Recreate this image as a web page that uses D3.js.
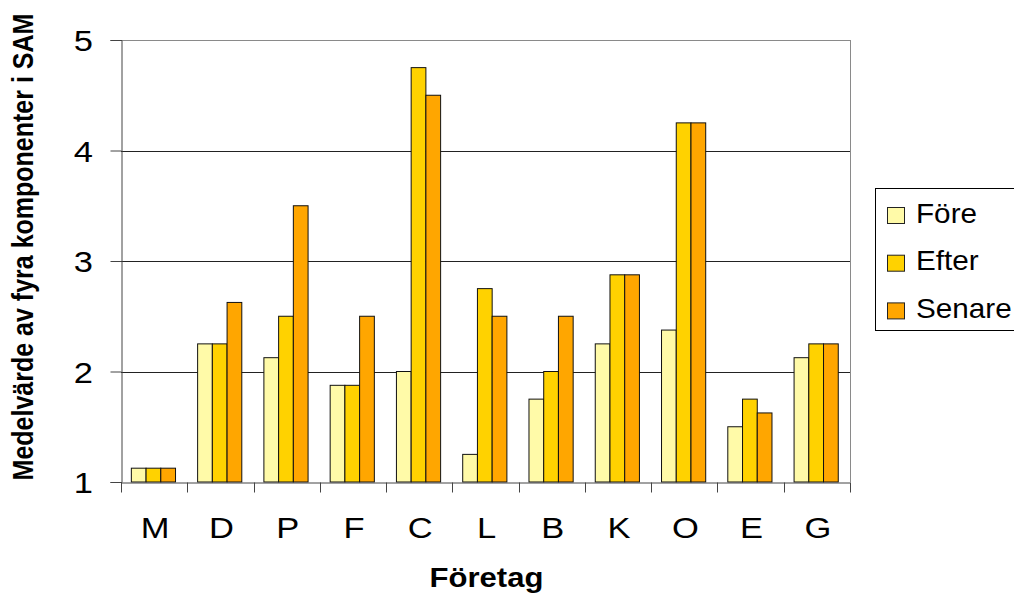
<!DOCTYPE html>
<html>
<head>
<meta charset="utf-8">
<script src="https://cdn.jsdelivr.net/npm/d3@7"></script>
<style>
  html, body { margin: 0; padding: 0; background: #fff; }
  svg { display: block; }
  text { font-family: "Liberation Sans", Arial, sans-serif; fill: #000; }
</style>
</head>
<body>
<svg id="chart" width="1014" height="596"></svg>
<script>
const categories = ["M", "D", "P", "F", "C", "L", "B", "K", "O", "E", "G"];
const fore   = [1.125, 2.25, 2.125, 1.875, 2.0, 1.25, 1.75, 2.25, 2.375, 1.5, 2.125];
const efter  = [1.125, 2.25, 2.5,   1.875, 4.75, 2.75, 2.0, 2.875, 4.25, 1.75, 2.25];
const senare = [1.125, 2.625, 3.5,  2.5,   4.5,  2.5,  2.5, 2.875, 4.25, 1.625, 2.25];
const seriesNames = ["Före", "Efter", "Senare"];
const seriesColors = ["#FFFAA8", "#FFD200", "#FFA600"];
const yTicks = [1, 2, 3, 4, 5];
const yTitle = "Medelvärde av fyra komponenter i SAM";
const xTitle = "Företag";

(function () {
const seriesValues = [fore, efter, senare];
const sx = 1.15; // horizontal stretch of the original picture

const svg = d3.select("#chart");
const pLeft = 121, pRight = 850, pTop = 40, pBottom = 482;

const x0 = d3.scaleBand().domain(categories).range([pLeft, pRight]).padding(0);
const bw = x0.bandwidth();
const gap = bw * 1.5 / 4.5;
const x1 = d3.scaleBand().domain(seriesNames).range([gap / 2 - 0.7, bw - gap / 2 - 0.7]).padding(0);
const y = d3.scaleLinear().domain([1, 5]).range([pBottom, pTop]);

// gridlines
svg.append("g").selectAll("line")
  .data(yTicks.filter(d => d > 1 && d < 5))
  .join("line")
  .attr("x1", pLeft).attr("x2", pRight)
  .attr("y1", d => Math.round(y(d)) + 0.5).attr("y2", d => Math.round(y(d)) + 0.5)
  .attr("stroke", "#222").attr("stroke-width", 1);

// plot border top/right
svg.append("line").attr("x1", pLeft).attr("x2", pRight + 0.5)
  .attr("y1", pTop + 0.5).attr("y2", pTop + 0.5).attr("stroke", "#8a8a8a");
svg.append("line").attr("x1", pRight + 0.5).attr("x2", pRight + 0.5)
  .attr("y1", pTop).attr("y2", pBottom).attr("stroke", "#8a8a8a");

// bars
const groups = svg.append("g").selectAll("g")
  .data(categories)
  .join("g")
  .attr("transform", d => `translate(${x0(d)},0)`);

groups.selectAll("rect")
  .data((c, i) => seriesNames.map((s, k) => ({ s, k, v: seriesValues[k][i] })))
  .join("rect")
  .attr("x", d => x1(d.s))
  .attr("y", d => y(d.v))
  .attr("width", x1.bandwidth())
  .attr("height", d => y(1) - y(d.v))
  .attr("fill", d => seriesColors[d.k])
  .attr("stroke", "#111")
  .attr("stroke-width", 1);

// y axis
const yAxis = svg.append("g")
  .attr("transform", `translate(${pLeft + 0.5},0)`)
  .call(d3.axisLeft(y).tickValues(yTicks).tickSize(11).tickPadding(0).tickFormat(d3.format("d")));
yAxis.select(".domain").attr("stroke", "#444");
yAxis.selectAll(".tick line").attr("stroke", "#444");
yAxis.selectAll(".tick text")
  .attr("x", -28.5 / sx)
  .attr("dy", "0.36em")
  .attr("transform", `scale(${sx},1)`)
  .style("font-size", "30px")
  .attr("fill", "#000");

// x axis
const xAxis = svg.append("g")
  .attr("transform", `translate(0,${pBottom + 0.5})`)
  .call(d3.axisBottom(x0).tickSize(0).tickFormat(""));
xAxis.select(".domain").attr("stroke", "#444");
xAxis.selectAll(".tick").remove();
const boundaries = categories.map(c => x0(c)).concat([pRight]);
xAxis.append("g").selectAll("line")
  .data(boundaries)
  .join("line")
  .attr("x1", d => Math.round(d) + 0.5).attr("x2", d => Math.round(d) + 0.5)
  .attr("y1", 0).attr("y2", 10)
  .attr("stroke", "#444");

svg.append("g").selectAll("text")
  .data(categories)
  .join("text")
  .attr("transform", d => `translate(${x0(d) + bw / 2 + 1},537.5) scale(${sx},1)`)
  .attr("text-anchor", "middle")
  .style("font-size", "30px")
  .text(d => d);

// axis titles
svg.append("text")
  .attr("transform", `translate(486.5,587) scale(${sx},1)`)
  .attr("text-anchor", "middle")
  .style("font-size", "27px")
  .style("font-weight", "bold")
  .text(xTitle);

svg.append("text")
  .attr("transform", `translate(33,247) scale(${sx},1) rotate(-90)`)
  .attr("text-anchor", "middle")
  .style("font-size", "25px")
  .style("font-weight", "bold")
  .text(yTitle);

// legend
const lg = svg.append("g");
lg.append("rect")
  .attr("x", 875.5).attr("y", 188.5)
  .attr("width", 200).attr("height", 142)
  .attr("fill", "#fff").attr("stroke", "#000");
const items = lg.selectAll("g.item")
  .data(seriesNames)
  .join("g")
  .attr("class", "item")
  .attr("transform", (d, i) => `translate(0,${207.5 + i * 47.7})`);
items.append("rect")
  .attr("x", 887.5).attr("y", 0)
  .attr("width", 17).attr("height", 16)
  .attr("fill", (d, i) => seriesColors[i])
  .attr("stroke", "#222");
items.append("text")
  .attr("transform", `translate(916,15) scale(1.06,1)`)
  .style("font-size", "28px")
  .text(d => d);
})();
</script>
</body>
</html>
